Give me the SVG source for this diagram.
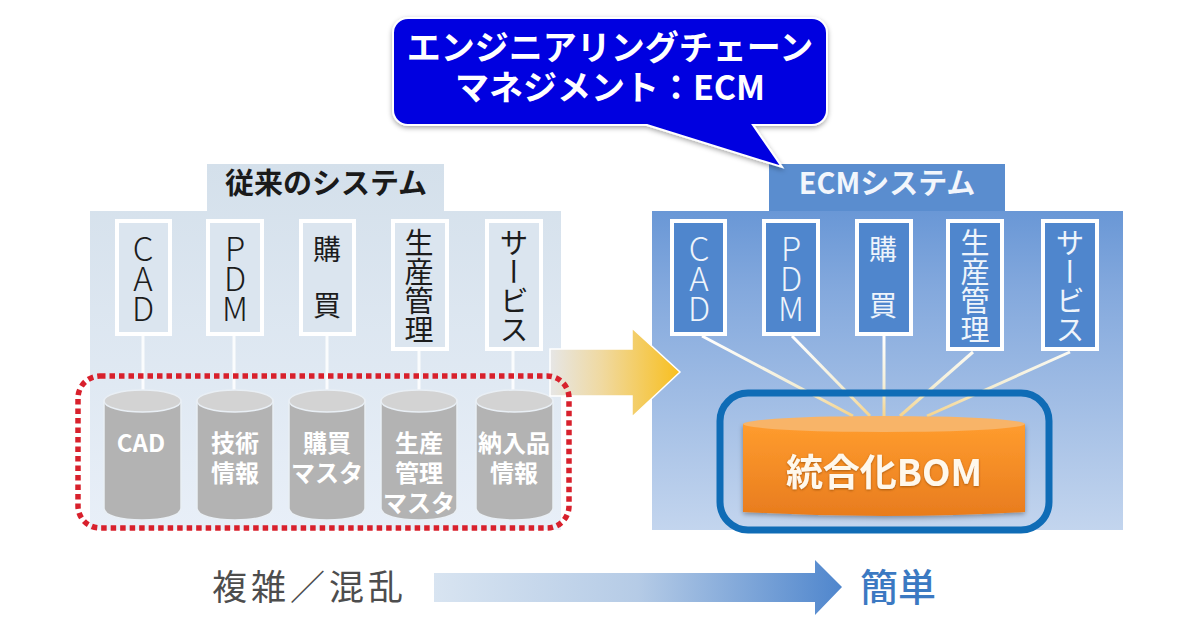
<svg xmlns="http://www.w3.org/2000/svg" width="1200" height="641" viewBox="0 0 1200 641">
<style>
text{font-family:"Noto Sans CJK JP","Liberation Sans",sans-serif}
.v{writing-mode:vertical-rl;text-orientation:upright;text-anchor:middle;font-size:29px;font-weight:400}
.lat{font-size:33px;letter-spacing:-3px;font-weight:300}
.vl{fill:#1c1c1c}.vr{fill:#eef4fb}
.bl{fill:#dbe5ef;stroke:#fff;stroke-width:4}
.br{fill:#4f86cd;stroke:#fff;stroke-width:4}
.link{stroke:#fff;stroke-width:3;fill:none;opacity:.85}
.cb{fill:#b3b3b3;stroke:#e9eff5;stroke-width:1.5}
.ct{fill:#d3d3d3;stroke:#e9eff5;stroke-width:1.5}
.ctx{fill:#fff;font-size:24px;font-weight:700;text-anchor:middle}
.ti{font-size:29px;font-weight:700;text-anchor:middle}
.cal{fill:#fff;font-size:34px;font-weight:700;text-anchor:middle}
</style>
<defs>
<linearGradient id="pl" x1="0" y1="0" x2="0" y2="1"><stop offset="0" stop-color="#d4e0eb"/><stop offset="1" stop-color="#e8eff8"/></linearGradient>
<linearGradient id="pr" x1="0" y1="0" x2="0" y2="1"><stop offset="0" stop-color="#5a8dd2"/><stop offset=".35" stop-color="#84a9dd"/><stop offset="1" stop-color="#c3d5ee"/></linearGradient>
<linearGradient id="ar" x1="0" y1="0" x2="1" y2="0"><stop offset="0" stop-color="#e6e6e6"/><stop offset=".4" stop-color="#f0d9a0"/><stop offset="1" stop-color="#f8bf1e"/></linearGradient>
<linearGradient id="ab" x1="0" y1="0" x2="1" y2="0"><stop offset="0" stop-color="#d8e4f1"/><stop offset=".5" stop-color="#b5cbe6"/><stop offset="1" stop-color="#4f86cd"/></linearGradient>
<linearGradient id="or" x1="0" y1="0" x2="0" y2="1"><stop offset="0" stop-color="#ff9c2e"/><stop offset="1" stop-color="#e87c1e"/></linearGradient>
<linearGradient id="ln" gradientUnits="userSpaceOnUse" x1="0" y1="336" x2="0" y2="416"><stop offset="0" stop-color="#fff"/><stop offset=".6" stop-color="#f4efd8"/><stop offset="1" stop-color="#f6d48c"/></linearGradient>
<filter id="sh" x="-5%" y="-10%" width="110%" height="125%"><feDropShadow dx="0" dy="2" stdDeviation="2.5" flood-color="#000" flood-opacity=".35"/></filter>
<filter id="ts" x="-5%" y="-10%" width="110%" height="125%"><feDropShadow dx="0" dy="1" stdDeviation="1" flood-color="#7a3c00" flood-opacity=".6"/></filter>
</defs>

<g id="panel-left">
<path d="M207 164H444V211H561V530H90V211H207Z" fill="url(#pl)"/>
<text class="ti" x="326" y="194" fill="#1a1a1a">従来のシステム</text>
</g>
<g id="panel-right">
<path d="M769 164H1005V211H1123V530H652V211H769Z" fill="url(#pr)"/>
<path d="M769 164H1005V211H769Z" fill="#5a8dcf"/>
<text class="ti" x="887" y="194" fill="#f2f6fc" font-size="28">ECMシステム</text>
</g>

<g id="connectors">
<path class="link" d="M143 335V392M234 335V392M327 335V392M419 350V392M513 350V392"/>
<g fill="none" stroke="url(#ln)" stroke-width="3">
<path d="M702 336L853 416"/><path d="M792 336L870 416"/><path d="M884 336V416"/><path d="M973 352L900 416"/><path d="M1070 352L927 416"/>
</g>
</g>

<g id="box-l-cad"><rect class="bl" x="117" y="221" width="53" height="113"/><text class="v lat vl" x="143" y="277">CAD</text></g>
<g id="box-l-pdm"><rect class="bl" x="208" y="221" width="54" height="113"/><text class="v lat vl" x="235" y="277">PDM</text></g>
<g id="box-l-kobai"><rect class="bl" x="301" y="221" width="53" height="113"/><text class="v vl" x="327" y="277" style="font-size:28px">購　買</text></g>
<g id="box-l-seisan"><rect class="bl" x="393" y="221" width="54" height="128"/><text class="v vl" x="419" y="286">生産管理</text></g>
<g id="box-l-service"><rect class="bl" x="487" y="221" width="54" height="128"/><text class="v vl" x="514" y="286">サービス</text></g>

<g id="box-r-cad"><rect class="br" x="672" y="221" width="53" height="113"/><text class="v lat vr" x="699" y="277">CAD</text></g>
<g id="box-r-pdm"><rect class="br" x="764" y="221" width="54" height="113"/><text class="v lat vr" x="791" y="277">PDM</text></g>
<g id="box-r-kobai"><rect class="br" x="857" y="221" width="54" height="113"/><text class="v vr" x="883" y="277" style="font-size:28px">購　買</text></g>
<g id="box-r-seisan"><rect class="br" x="948" y="221" width="54" height="128"/><text class="v vr" x="975" y="286">生産管理</text></g>
<g id="box-r-service"><rect class="br" x="1043" y="221" width="54" height="128"/><text class="v vr" x="1070" y="286">サービス</text></g>

<g id="db-cad"><path class="cb" d="M104 401V508C104 516 121 520 142 520S181 516 181 508V401Z"/><ellipse class="ct" cx="142.500" cy="401" rx="38.500" ry="11"/><text class="ctx" x="141" y="452">CAD</text></g>
<g id="db-tech"><path class="cb" d="M197 401V508C197 516 214 520 235 520S273 516 273 508V401Z"/><ellipse class="ct" cx="235" cy="401" rx="38" ry="11"/><text class="ctx" x="235" y="452">技術</text><text class="ctx" x="235" y="482">情報</text></g>
<g id="db-kobai"><path class="cb" d="M289 401V508C289 516 306 520 327 520S365 516 365 508V401Z"/><ellipse class="ct" cx="327" cy="401" rx="38" ry="11"/><text class="ctx" x="327" y="452">購買</text><text class="ctx" x="327" y="482">マスタ</text></g>
<g id="db-seisan"><path class="cb" d="M381 401V508C381 516 398 520 419 520S457 516 457 508V401Z"/><ellipse class="ct" cx="419" cy="401" rx="38" ry="11"/><text class="ctx" x="419" y="452">生産</text><text class="ctx" x="419" y="482">管理</text><text class="ctx" x="419" y="512">マスタ</text></g>
<g id="db-nonyu"><path class="cb" d="M476 401V508C476 516 493 520 514 520S553 516 553 508V401Z"/><ellipse class="ct" cx="514.500" cy="401" rx="38.500" ry="11"/><text class="ctx" x="514" y="452">納入品</text><text class="ctx" x="514" y="482">情報</text></g>

<g id="arrow-main"><path d="M550 349H632V328L680 372L632 417V396H550Z" fill="url(#ar)" stroke="#fff" stroke-width="1.500"/></g>

<g id="frame-red"><rect x="78" y="376" width="491" height="152" rx="22" fill="none" stroke="#d8202c" stroke-width="5.500" stroke-dasharray="5.500 4"/></g>

<g id="bom">
<path d="M743 424V512Q884 520 1025 512V424Z" fill="url(#or)" filter="url(#sh)"/>
<ellipse cx="884" cy="424" rx="141" ry="8" fill="#f8b468"/>
<text x="884" y="486" fill="#fff8ec" font-size="37" font-weight="700" text-anchor="middle" filter="url(#ts)">統合化BOM</text>
</g>
<g id="frame-blue"><rect x="720" y="393" width="329" height="137" rx="28" fill="none" stroke="#0f6cb6" stroke-width="7"/></g>

<g id="callout">
<path d="M408 18H812A15 15 0 0 1 827 33V110A15 15 0 0 1 812 125H753L782 167L647 125H408A15 15 0 0 1 393 110V33A15 15 0 0 1 408 18Z" fill="#0202e0" stroke="#fff" stroke-width="2" filter="url(#sh)"/>
<text class="cal" x="610" y="60">エンジニアリングチェーン</text>
<text class="cal" x="610" y="100">マネジメント：ECM</text>
</g>

<g id="label-complex"><text x="212" y="600" fill="#4d4d4d" font-size="35" letter-spacing="4">複雑／混乱</text></g>
<g id="arrow-bottom"><path d="M434 573H815V560L842 587L815 615V602H434Z" fill="url(#ab)"/></g>
<g id="label-simple"><text x="860" y="601" fill="#3b79c2" font-size="38" font-weight="500">簡単</text></g>
</svg>
